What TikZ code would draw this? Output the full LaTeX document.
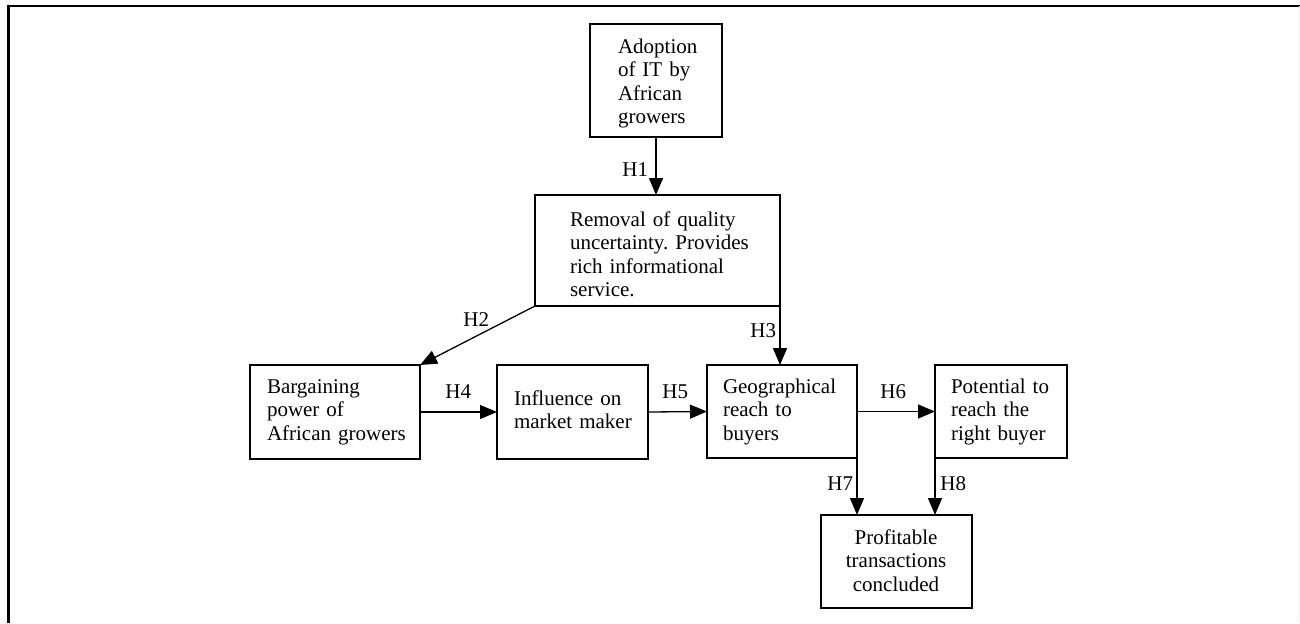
\documentclass[tikz,border=0pt]{standalone}
\usepackage{fontspec}
\setmainfont{Liberation Serif}
\usetikzlibrary{arrows.meta,fit}
\frenchspacing
\begin{document}
\begin{tikzpicture}[x=0.5pt,y=-0.5pt,
  box/.style={draw,line width=0.65pt,inner sep=0pt,outer sep=0pt},
  txt/.style={inner sep=0pt,outer sep=0pt,align=left,anchor=base west,
    font=\fontsize{10.5pt}{11.75pt}\selectfont},
  hlab/.style={inner sep=0pt,anchor=base west,font=\fontsize{10.5pt}{11.75pt}\selectfont},
  arr/.style={line width=0.65pt,-{Triangle[length=8.5pt,width=7pt]}}]
\useasboundingbox (0,0) rectangle (1300,623);
% page frame
\draw[line width=1.2pt] (8.3,623) -- (8.3,6.2) -- (1300,6.2);
\draw[gray!12,line width=0.5pt] (1299.5,6.2) -- (1299.5,623);
% boxes
\node[box,fit={(590,24) (722,137)}] (adopt) {};
\node[box,fit={(535,195) (780,306)}] (removal) {};
\node[box,fit={(250,365) (420,459)}] (barg) {};
\node[box,fit={(497,365) (648,459)}] (infl) {};
\node[box,fit={(707,365) (857,458)}] (geo) {};
\node[box,fit={(935,365) (1067,458)}] (pot) {};
\node[box,fit={(821,515) (972,608)}] (prof) {};
% box texts
\node[txt,text width=60pt] (adopt-t) at (618,53) {Adoption\\of IT by\\African\\growers};
\node[txt,text width=110pt] (removal-t) at (570,226) {Removal of quality\\uncertainty. Provides\\rich informational\\service.};
\node[txt,text width=80pt] (barg-t) at (267,393) {Bargaining\\power of\\African growers};
\node[txt,text width=70pt] (infl-t) at (514,405) {Influence on\\market maker};
\node[txt,text width=65pt] (geo-t) at (723,393) {Geographical\\reach to\\buyers};
\node[txt,text width=60pt] (pot-t) at (951,393) {Potential to\\reach the\\right buyer};
\node[txt,text width=70pt,align=center,anchor=base] (prof-t) at (896,544) {Profitable\\transactions\\concluded};
% connectors
\draw[arr] (adopt.south) -- (adopt.south |- removal.north);
\draw[arr] (removal.south west) -- (barg.north east);
\draw[arr] (removal.south east) -- (removal.south east |- geo.north);
\draw[arr] (barg.east) -- (infl.west);
\draw[arr] (infl.east) -- (geo.west);
\draw[arr] (geo.east) -- (pot.west);
\draw[arr] (geo.south east) -- (geo.south east |- prof.north);
\draw[arr] (pot.south west) -- (pot.south west |- prof.north);
% hypothesis labels
\node[hlab] (h1) at (622,176) {H1};
\node[hlab] (h2) at (463,326) {H2};
\node[hlab] (h3) at (750,337) {H3};
\node[hlab] (h4) at (445,398) {H4};
\node[hlab] (h5) at (662,398) {H5};
\node[hlab] (h6) at (880,398) {H6};
\node[hlab] (h7) at (827,490) {H7};
\node[hlab] (h8) at (940,490) {H8};
\end{tikzpicture}
\end{document}
